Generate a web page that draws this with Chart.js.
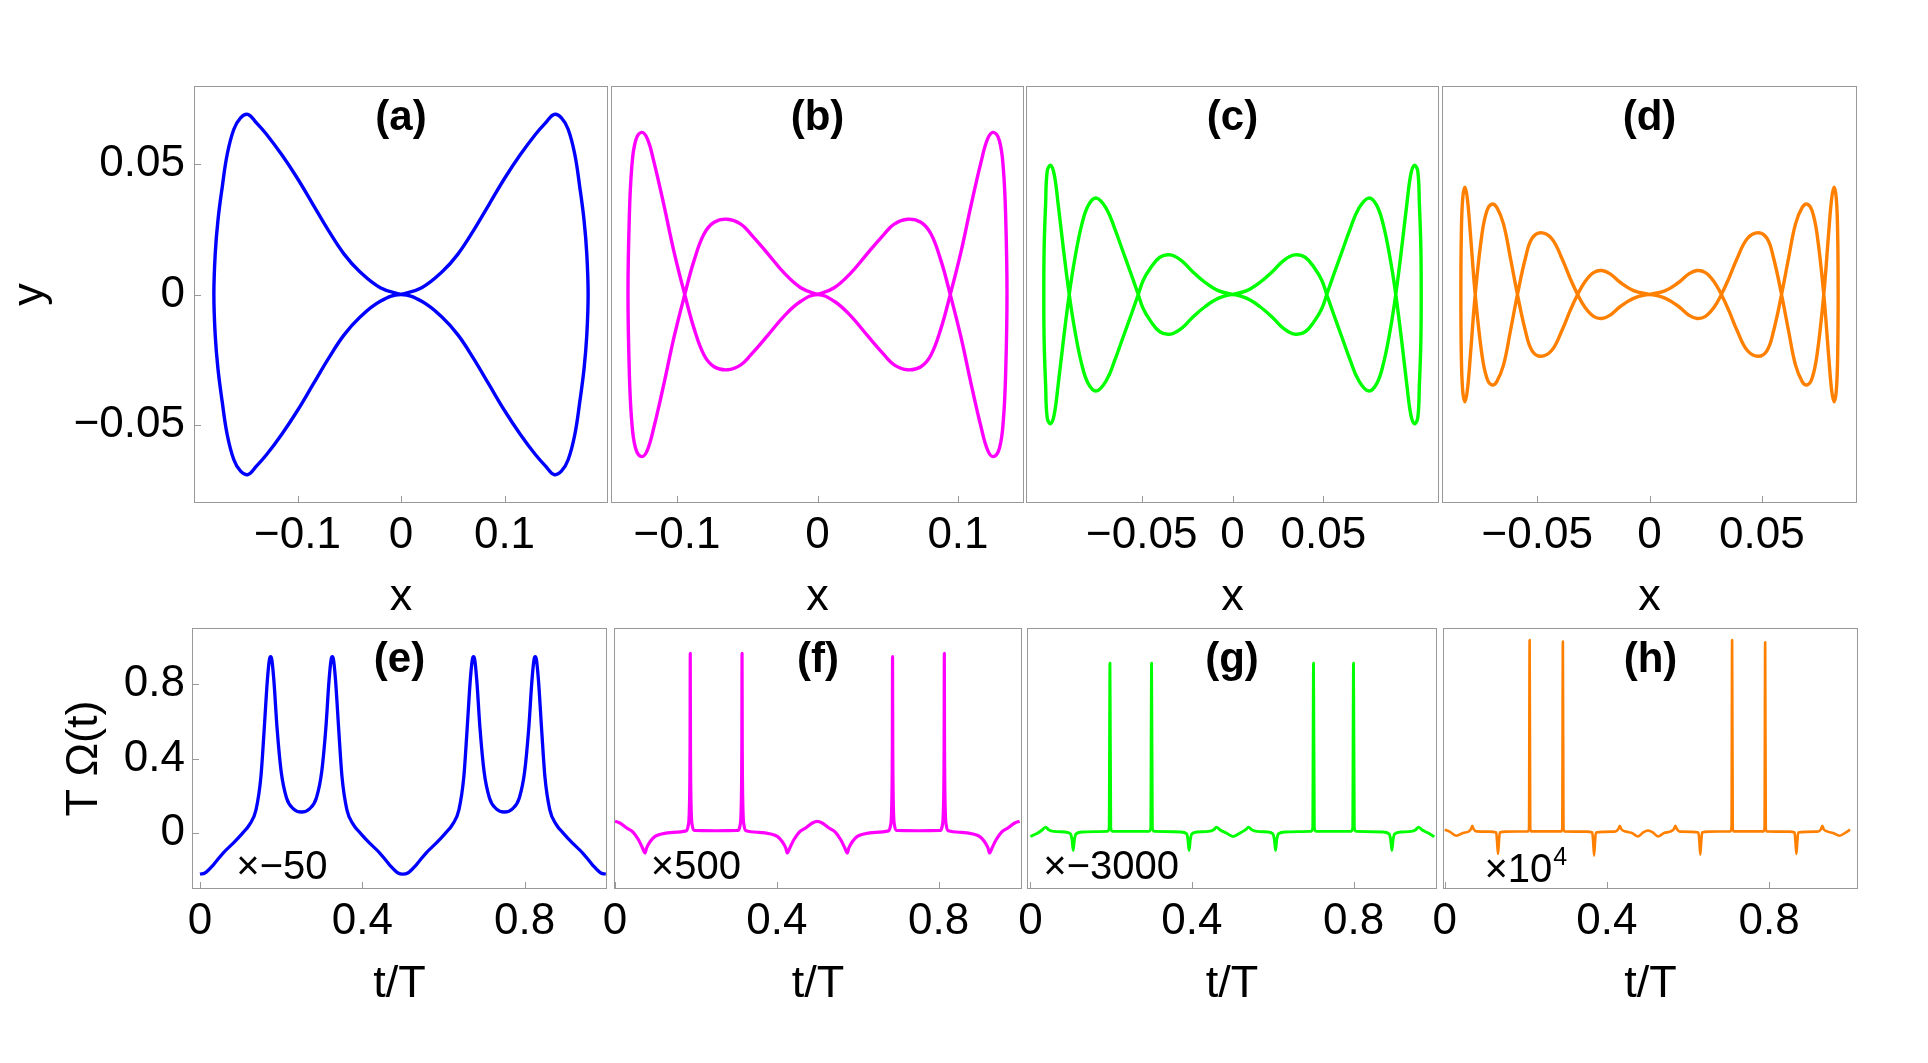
<!DOCTYPE html>
<html>
<head>
<meta charset="utf-8">
<script src="https://cdn.jsdelivr.net/npm/chart.js@4.4.1/dist/chart.umd.min.js"></script>
<style>
  body { margin: 0; background: #fff; width: 1928px; height: 1063px; overflow: hidden; }
  canvas { position: absolute; }
</style>
</head>
<body>
<canvas id="pa"></canvas>
<canvas id="pb"></canvas>
<canvas id="pc"></canvas>
<canvas id="pd"></canvas>
<canvas id="pe"></canvas>
<canvas id="pf"></canvas>
<canvas id="pg"></canvas>
<canvas id="ph"></canvas>
<script>
const FONT = '"Liberation Sans", Arial, Helvetica, sans-serif';

// closed trajectories (x, y), traced along the loop
const curveA = [
  [0,0],[0.02,0.0026],[0.04,0.0088],[0.055,0.0155],[0.07,0.0245],[0.085,0.0345],[0.1,0.0445],[0.115,0.0535],[0.13,0.0615],[0.14,0.066],[0.148,0.0691],[0.155,0.0678],[0.1615,0.0634],[0.1679,0.0538],[0.1728,0.041],[0.1769,0.0283],[0.1795,0.0156],[0.1808,0],
  [0.1795,-0.0156],[0.1769,-0.0283],[0.1728,-0.041],[0.1679,-0.0538],[0.1615,-0.0634],[0.155,-0.0678],[0.148,-0.0691],[0.14,-0.066],[0.13,-0.0615],[0.115,-0.0535],[0.1,-0.0445],[0.085,-0.0345],[0.07,-0.0245],[0.055,-0.0155],[0.04,-0.0088],[0.02,-0.0026],[0,0],
  [-0.02,-0.0026],[-0.04,-0.0088],[-0.055,-0.0155],[-0.07,-0.0245],[-0.085,-0.0345],[-0.1,-0.0445],[-0.115,-0.0535],[-0.13,-0.0615],[-0.14,-0.066],[-0.148,-0.0691],[-0.155,-0.0678],[-0.1615,-0.0634],[-0.1679,-0.0538],[-0.1728,-0.041],[-0.1769,-0.0283],[-0.1795,-0.0156],[-0.1808,0],
  [-0.1795,0.0156],[-0.1769,0.0283],[-0.1728,0.041],[-0.1679,0.0538],[-0.1615,0.0634],[-0.155,0.0678],[-0.148,0.0691],[-0.14,0.066],[-0.13,0.0615],[-0.115,0.0535],[-0.1,0.0445],[-0.085,0.0345],[-0.07,0.0245],[-0.055,0.0155],[-0.04,0.0088],[-0.02,0.0026],[0,0]
];

const curveB = [
  [0,0],[0.0119,0.0026],[0.0238,0.0083],[0.0356,0.0158],[0.0475,0.0232],[0.0546,0.027],[0.0641,0.0289],[0.0736,0.0277],[0.0808,0.0232],[0.0879,0.013],[0.0945,0],[0.1021,-0.0163],[0.1093,-0.0342],[0.1164,-0.0508],[0.1211,-0.0597],[0.1252,-0.0622],[0.1295,-0.059],[0.1323,-0.0482],[0.134,-0.029],[0.1349,0],
  [0.134,0.029],[0.1323,0.0482],[0.1295,0.059],[0.1252,0.0622],[0.1211,0.0597],[0.1164,0.0508],[0.1093,0.0342],[0.1021,0.0163],[0.0945,0],[0.0879,-0.013],[0.0808,-0.0232],[0.0736,-0.0277],[0.0641,-0.0289],[0.0546,-0.027],[0.0475,-0.0232],[0.0356,-0.0158],[0.0238,-0.0083],[0.0119,-0.0026],[0,0],
  [-0.0119,-0.0026],[-0.0238,-0.0083],[-0.0356,-0.0158],[-0.0475,-0.0232],[-0.0546,-0.027],[-0.0641,-0.0289],[-0.0736,-0.0277],[-0.0808,-0.0232],[-0.0879,-0.013],[-0.0945,0],[-0.1021,0.0163],[-0.1093,0.0342],[-0.1164,0.0508],[-0.1211,0.0597],[-0.1252,0.0622],[-0.1295,0.059],[-0.1323,0.0482],[-0.134,0.029],[-0.1349,0],
  [-0.134,-0.029],[-0.1323,-0.0482],[-0.1295,-0.059],[-0.1252,-0.0622],[-0.1211,-0.0597],[-0.1164,-0.0508],[-0.1093,-0.0342],[-0.1021,-0.0163],[-0.0945,0],[-0.0879,0.013],[-0.0808,0.0232],[-0.0736,0.0277],[-0.0641,0.0289],[-0.0546,0.027],[-0.0475,0.0232],[-0.0356,0.0158],[-0.0238,0.0083],[-0.0119,0.0026],[0,0]
];

const curveC = [
  [0,0],[0.0079,0.0015],[0.0152,0.0047],[0.0226,0.0092],[0.0281,0.013],[0.0341,0.0152],[0.04,0.0143],[0.0455,0.0098],[0.0492,0.0054],[0.0519,0],[0.0556,-0.0074],[0.0602,-0.0163],[0.0648,-0.0252],[0.0694,-0.0329],[0.0749,-0.037],[0.0794,-0.0342],[0.0831,-0.0265],[0.0868,-0.0138],[0.0899,0],[0.0932,0.0181],[0.096,0.0347],[0.0982,0.0462],[0.1002,0.0496],[0.102,0.0474],[0.1029,0.0347],[0.1037,0.0181],[0.1039,0],
  [0.1037,-0.0181],[0.1029,-0.0347],[0.102,-0.0474],[0.1002,-0.0496],[0.0982,-0.0462],[0.096,-0.0347],[0.0932,-0.0181],[0.0899,0],[0.0868,0.0138],[0.0831,0.0265],[0.0794,0.0342],[0.0749,0.037],[0.0694,0.0329],[0.0648,0.0252],[0.0602,0.0163],[0.0556,0.0074],[0.0519,0],[0.0492,-0.0054],[0.0455,-0.0098],[0.04,-0.0143],[0.0341,-0.0152],[0.0281,-0.013],[0.0226,-0.0092],[0.0152,-0.0047],[0.0079,-0.0015],[0,0],
  [-0.0079,-0.0015],[-0.0152,-0.0047],[-0.0226,-0.0092],[-0.0281,-0.013],[-0.0341,-0.0152],[-0.04,-0.0143],[-0.0455,-0.0098],[-0.0492,-0.0054],[-0.0519,0],[-0.0556,0.0074],[-0.0602,0.0163],[-0.0648,0.0252],[-0.0694,0.0329],[-0.0749,0.037],[-0.0794,0.0342],[-0.0831,0.0265],[-0.0868,0.0138],[-0.0899,0],[-0.0932,-0.0181],[-0.096,-0.0347],[-0.0982,-0.0462],[-0.1002,-0.0496],[-0.102,-0.0474],[-0.1029,-0.0347],[-0.1037,-0.0181],[-0.1039,0],
  [-0.1037,0.0181],[-0.1029,0.0347],[-0.102,0.0474],[-0.1002,0.0496],[-0.0982,0.0462],[-0.096,0.0347],[-0.0932,0.0181],[-0.0899,0],[-0.0868,-0.0138],[-0.0831,-0.0265],[-0.0794,-0.0342],[-0.0749,-0.037],[-0.0694,-0.0329],[-0.0648,-0.0252],[-0.0602,-0.0163],[-0.0556,-0.0074],[-0.0519,0],[-0.0492,0.0054],[-0.0455,0.0098],[-0.04,0.0143],[-0.0341,0.0152],[-0.0281,0.013],[-0.0226,0.0092],[-0.0152,0.0047],[-0.0079,0.0015],[0,0]
];

const curveD = [
  [0,0],[0.0071,0.0015],[0.0131,0.0047],[0.0175,0.0079],[0.0212,0.0092],[0.0249,0.0084],[0.0286,0.0051],[0.032,0],[0.0353,-0.0061],[0.039,-0.0138],[0.0435,-0.0214],[0.0484,-0.0237],[0.0524,-0.0214],[0.0553,-0.0138],[0.0588,0],[0.062,0.0143],[0.065,0.027],[0.068,0.0334],[0.0702,0.0347],[0.0724,0.0321],[0.0746,0.0232],[0.0776,0],[0.0797,-0.0227],[0.0811,-0.0367],[0.0822,-0.0412],[0.0832,-0.0367],[0.0838,-0.0227],[0.084,0],
  [0.0838,0.0227],[0.0832,0.0367],[0.0822,0.0412],[0.0811,0.0367],[0.0797,0.0227],[0.0776,0],[0.0746,-0.0232],[0.0724,-0.0321],[0.0702,-0.0347],[0.068,-0.0334],[0.065,-0.027],[0.062,-0.0143],[0.0588,0],[0.0553,0.0138],[0.0524,0.0214],[0.0484,0.0237],[0.0435,0.0214],[0.039,0.0138],[0.0353,0.0061],[0.032,0],[0.0286,-0.0051],[0.0249,-0.0084],[0.0212,-0.0092],[0.0175,-0.0079],[0.0131,-0.0047],[0.0071,-0.0015],[0,0],
  [-0.0071,-0.0015],[-0.0131,-0.0047],[-0.0175,-0.0079],[-0.0212,-0.0092],[-0.0249,-0.0084],[-0.0286,-0.0051],[-0.032,0],[-0.0353,0.0061],[-0.039,0.0138],[-0.0435,0.0214],[-0.0484,0.0237],[-0.0524,0.0214],[-0.0553,0.0138],[-0.0588,0],[-0.062,-0.0143],[-0.065,-0.027],[-0.068,-0.0334],[-0.0702,-0.0347],[-0.0724,-0.0321],[-0.0746,-0.0232],[-0.0776,0],[-0.0797,0.0227],[-0.0811,0.0367],[-0.0822,0.0412],[-0.0832,0.0367],[-0.0838,0.0227],[-0.084,0],
  [-0.0838,-0.0227],[-0.0832,-0.0367],[-0.0822,-0.0412],[-0.0811,-0.0367],[-0.0797,-0.0227],[-0.0776,0],[-0.0746,0.0232],[-0.0724,0.0321],[-0.0702,0.0347],[-0.068,0.0334],[-0.065,0.027],[-0.062,0.0143],[-0.0588,0],[-0.0553,-0.0138],[-0.0524,-0.0214],[-0.0484,-0.0237],[-0.0435,-0.0214],[-0.039,-0.0138],[-0.0353,-0.0061],[-0.032,0],[-0.0286,0.0051],[-0.0249,0.0084],[-0.0212,0.0092],[-0.0175,0.0079],[-0.0131,0.0047],[-0.0071,0.0015],[0,0]
];

// T·Omega(t) against t/T
const omegaE = [
  [0,-0.22],[0.012,-0.214],[0.033,-0.17],[0.057,-0.107],[0.082,-0.054],[0.105,0],[0.122,0.045],[0.138,0.125],[0.15,0.3],[0.158,0.55],[0.166,0.82],[0.171,0.93],[0.174,0.946],[0.177,0.93],[0.182,0.82],[0.19,0.56],[0.2,0.33],[0.213,0.19],[0.23,0.13],[0.25,0.113],[0.27,0.13],[0.287,0.19],[0.3,0.33],[0.31,0.56],[0.318,0.82],[0.323,0.93],[0.326,0.946],[0.329,0.93],[0.334,0.82],[0.342,0.55],[0.35,0.3],[0.362,0.125],[0.378,0.045],[0.395,0],[0.418,-0.054],[0.443,-0.107],[0.467,-0.17],[0.488,-0.214],[0.5,-0.22],
  [0.512,-0.214],[0.533,-0.17],[0.557,-0.107],[0.582,-0.054],[0.605,0],[0.622,0.045],[0.638,0.125],[0.65,0.3],[0.658,0.55],[0.666,0.82],[0.671,0.93],[0.674,0.946],[0.677,0.93],[0.682,0.82],[0.69,0.56],[0.7,0.33],[0.713,0.19],[0.73,0.13],[0.75,0.113],[0.77,0.13],[0.787,0.19],[0.8,0.33],[0.81,0.56],[0.818,0.82],[0.823,0.93],[0.826,0.946],[0.829,0.93],[0.834,0.82],[0.842,0.55],[0.85,0.3],[0.862,0.125],[0.878,0.045],[0.895,0],[0.918,-0.054],[0.943,-0.107],[0.967,-0.17],[0.988,-0.214],[1,-0.22]
];

const omegaF = [
  [0,0.063],[0.012,0.054],[0.029,0.027],[0.045,0.004],[0.058,-0.036],[0.068,-0.08],[0.074,-0.107],[0.078,-0.08],[0.087,-0.045],[0.099,-0.018],[0.115,-0.005],[0.144,0.004],[0.176,0.012],[0.181,0.04],[0.184,0.15],[0.1855,0.5],[0.186,0.964],[0.1865,0.5],[0.188,0.15],[0.191,0.04],[0.196,0.014],[0.25,0.0125],[0.304,0.014],[0.309,0.04],[0.312,0.15],[0.3135,0.5],[0.314,0.964],[0.3145,0.5],[0.316,0.15],[0.319,0.04],[0.324,0.012],[0.356,0.004],[0.385,-0.005],[0.401,-0.018],[0.413,-0.045],[0.422,-0.08],[0.426,-0.107],[0.432,-0.08],[0.442,-0.036],[0.455,0.004],[0.471,0.027],[0.488,0.054],[0.5,0.063],
  [0.512,0.054],[0.529,0.027],[0.545,0.004],[0.558,-0.036],[0.568,-0.08],[0.574,-0.107],[0.578,-0.08],[0.587,-0.045],[0.599,-0.018],[0.615,-0.005],[0.644,0.004],[0.676,0.012],[0.681,0.04],[0.684,0.15],[0.6855,0.5],[0.686,0.946],[0.6865,0.5],[0.688,0.15],[0.691,0.04],[0.696,0.014],[0.75,0.0125],[0.804,0.014],[0.809,0.04],[0.812,0.15],[0.8135,0.5],[0.814,0.964],[0.8145,0.5],[0.816,0.15],[0.819,0.04],[0.824,0.012],[0.856,0.004],[0.885,-0.005],[0.901,-0.018],[0.913,-0.045],[0.922,-0.08],[0.926,-0.107],[0.932,-0.08],[0.942,-0.036],[0.955,0.004],[0.971,0.027],[0.988,0.054],[1,0.063]
];

const omegaG = [
  [0,-0.018],[0.015,-0.004],[0.03,0.018],[0.038,0.032],[0.045,0.018],[0.058,0.009],[0.085,0.006],[0.099,-0.004],[0.103,-0.035],[0.106,-0.093],[0.109,-0.035],[0.113,-0.004],[0.128,0.006],[0.19,0.009],[0.195,0.025],[0.197,0.911],[0.199,0.025],[0.204,0.009],[0.293,0.009],[0.298,0.025],[0.3,0.911],[0.302,0.025],[0.307,0.009],[0.372,0.006],[0.387,-0.004],[0.39,-0.035],[0.393,-0.093],[0.396,-0.035],[0.4,-0.004],[0.414,0.006],[0.441,0.009],[0.454,0.018],[0.461,0.032],[0.469,0.018],[0.485,0],[0.502,-0.018],
  [0.519,0],[0.533,0.018],[0.54,0.032],[0.548,0.018],[0.561,0.009],[0.588,0.006],[0.6,-0.004],[0.604,-0.035],[0.607,-0.093],[0.61,-0.035],[0.614,-0.004],[0.63,0.006],[0.694,0.009],[0.699,0.025],[0.701,0.911],[0.703,0.025],[0.708,0.009],[0.793,0.009],[0.798,0.025],[0.8,0.911],[0.802,0.025],[0.807,0.009],[0.872,0.006],[0.888,-0.004],[0.892,-0.035],[0.895,-0.093],[0.898,-0.035],[0.902,-0.004],[0.918,0.006],[0.943,0.009],[0.954,0.018],[0.961,0.032],[0.969,0.018],[0.985,0],[1,-0.02]
];

const omegaH = [
  [0,0.018],[0.012,0.008],[0.029,-0.014],[0.045,0],[0.06,0.01],[0.065,0.022],[0.068,0.039],[0.071,0.022],[0.078,0.009],[0.11,0.008],[0.127,0.003],[0.129,-0.04],[0.1315,-0.1125],[0.134,-0.04],[0.136,0.003],[0.15,0.008],[0.206,0.009],[0.208,0.03],[0.2095,1.036],[0.211,0.03],[0.213,0.009],[0.288,0.009],[0.29,0.03],[0.2915,1.027],[0.293,0.03],[0.295,0.009],[0.35,0.008],[0.364,0.003],[0.366,-0.04],[0.3685,-0.121],[0.371,-0.04],[0.373,0.003],[0.42,0.008],[0.428,0.02],[0.432,0.039],[0.436,0.02],[0.447,0.008],[0.462,0],[0.477,-0.018],[0.49,0.004],[0.5015,0.014],
  [0.513,0.004],[0.526,-0.018],[0.541,0],[0.556,0.008],[0.565,0.02],[0.569,0.039],[0.573,0.02],[0.58,0.008],[0.626,0.003],[0.628,-0.04],[0.6305,-0.116],[0.633,-0.04],[0.635,0.003],[0.65,0.008],[0.705,0.009],[0.7075,0.03],[0.709,1.036],[0.7105,0.03],[0.7125,0.009],[0.787,0.009],[0.789,0.03],[0.7905,1.023],[0.792,0.03],[0.794,0.009],[0.85,0.008],[0.863,0.003],[0.865,-0.04],[0.8675,-0.1125],[0.87,-0.04],[0.872,0.003],[0.92,0.008],[0.928,0.02],[0.9315,0.039],[0.935,0.02],[0.945,0.008],[0.958,0],[0.974,-0.014],[0.99,0.004],[1,0.018]
];

const wideXTicks = [-0.1, 0, 0.1];
const wideXLabels = ["\u22120.1", "0", "0.1"];
const narrowXTicks = [-0.05, 0, 0.05];
const narrowXLabels = ["\u22120.05", "0", "0.05"];
const topYTicks = [-0.05, 0, 0.05];
const topYLabels = ["\u22120.05", "0", "0.05"];
const timeTicks = [0, 0.4, 0.8];
const timeLabels = ["0", "0.4", "0.8"];
const omegaTicks = [0, 0.4, 0.8];
const omegaLabels = ["0", "0.4", "0.8"];
const panelLabels = ["(a)", "(b)", "(c)", "(d)", "(e)", "(f)", "(g)", "(h)"];
const scaleNotes = ["\u00d7\u221250", "\u00d7500", "\u00d7\u22123000", "\u00d710"];

const panelText = {
  id: "panelText",
  afterDraw(chart, args, opts) {
    const { ctx, chartArea: a } = chart;
    const xs = chart.scales.x, ys = chart.scales.y;
    ctx.save();
    ctx.strokeStyle = "#999";
    ctx.lineWidth = 1;
    ctx.strokeRect(a.left + 0.5, a.top + 0.5, a.width - 1, a.height - 1);
    ctx.beginPath();
    xs.ticks.forEach((t) => {
      const px = Math.round(xs.getPixelForValue(t.value)) + 0.5;
      ctx.moveTo(px, a.bottom);
      ctx.lineTo(px, a.bottom - 7);
    });
    if (ys.options.display) {
      ys.ticks.forEach((t) => {
        const py = Math.round(ys.getPixelForValue(t.value)) + 0.5;
        ctx.moveTo(a.left, py);
        ctx.lineTo(a.left + 7, py);
      });
    }
    ctx.stroke();

    ctx.fillStyle = "#000";
    ctx.textBaseline = "alphabetic";
    ctx.textAlign = "center";
    ctx.font = `bold 42px ${FONT}`;
    ctx.fillText(opts.label, (a.left + a.right) / 2, a.top + 44);

    if (opts.note) {
      const nx = xs.getPixelForValue(opts.noteAt[0]);
      const ny = ys.getPixelForValue(opts.noteAt[1]);
      ctx.textAlign = "left";
      ctx.font = `40px ${FONT}`;
      const w1 = ctx.measureText(opts.note).width;
      let w2 = 0;
      if (opts.sup) {
        ctx.font = `25px ${FONT}`;
        w2 = ctx.measureText(opts.sup).width + 1;
      }
      const left = nx - (w1 + w2) / 2;
      ctx.font = `40px ${FONT}`;
      ctx.fillText(opts.note, left, ny);
      if (opts.sup) {
        ctx.font = `25px ${FONT}`;
        ctx.fillText(opts.sup, left + w1 + 1, ny - 17);
      }
    }
    ctx.restore();
  },
};

const panels = [
  { id: "pa", points: curveA, color: "#0000ff", lw: 3.4, left: 0, top: 84, w: 610, h: 541, pl: 0, yw: 194, xh: 122, x: [-0.2, 0.2], y: [-0.08, 0.08], xTicks: wideXTicks, xLabels: wideXLabels, xTitle: "x", yTicks: topYTicks, yLabels: topYLabels, yTitle: "y", yTitlePad: 4, yTickPad: 9, label: panelLabels[0] },
  { id: "pb", points: curveB, color: "#ff00ff", lw: 3.4, left: 581, top: 84, w: 445, h: 541, pl: 30, xh: 122, x: [-0.147, 0.147], y: [-0.08, 0.08], xTicks: wideXTicks, xLabels: wideXLabels, xTitle: "x", label: panelLabels[1] },
  { id: "pc", points: curveC, color: "#00ff00", lw: 3.4, left: 996, top: 84, w: 445, h: 541, pl: 30, xh: 122, x: [-0.1137, 0.1137], y: [-0.08, 0.08], xTicks: narrowXTicks, xLabels: narrowXLabels, xTitle: "x", label: panelLabels[2] },
  { id: "pd", points: curveD, color: "#ff8000", lw: 3.4, left: 1412, top: 84, w: 447, h: 541, pl: 30, xh: 122, x: [-0.0924, 0.0924], y: [-0.08, 0.08], xTicks: narrowXTicks, xLabels: narrowXLabels, xTitle: "x", label: panelLabels[3] },
  { id: "pe", points: omegaE, color: "#0000ff", lw: 3.3, mono: true, left: 0, top: 626, w: 609, h: 386, pl: 0, yw: 192, xh: 123, x: [-0.0197, 1.0029], y: [-0.3, 1.1], xTicks: timeTicks, xLabels: timeLabels, xTitle: "t/T", yTicks: omegaTicks, yLabels: omegaLabels, yTitle: "T \u03a9(t)", yTitlePad: 58, yTickPad: 7, label: panelLabels[4], note: scaleNotes[0], noteAt: [0.202, -0.245] },
  { id: "pf", points: omegaF, color: "#ff00ff", lw: 3.2, mono: true, left: 584, top: 626, w: 440, h: 386, pl: 30, xh: 123, x: [-0.0025, 1.006], y: [-0.3, 1.1], xTicks: timeTicks, xLabels: timeLabels, xTitle: "t/T", label: panelLabels[5], note: scaleNotes[1], noteAt: [0.2, -0.245] },
  { id: "pg", points: omegaG, color: "#00ff00", lw: 2.9, mono: true, left: 997, top: 626, w: 442, h: 386, pl: 30, xh: 123, x: [-0.0084, 1.0067], y: [-0.3, 1.1], xTicks: timeTicks, xLabels: timeLabels, xTitle: "t/T", label: panelLabels[6], note: scaleNotes[2], noteAt: [0.2, -0.245] },
  { id: "ph", points: omegaH, color: "#ff8000", lw: 2.6, mono: true, left: 1413, top: 626, w: 447, h: 386, pl: 30, xh: 123, x: [-0.0042, 1.0195], y: [-0.3, 1.1], xTicks: timeTicks, xLabels: timeLabels, xTitle: "t/T", label: panelLabels[7], note: scaleNotes[3], sup: "4", noteAt: [0.2, -0.26] },
];

function buildPanel(p) {
  const canvas = document.getElementById(p.id);
  canvas.width = p.w;
  canvas.height = p.h;
  canvas.style.left = p.left + "px";
  canvas.style.top = p.top + "px";

  const hasY = Boolean(p.yTicks);
  const yScale = hasY ? {
    type: "linear", min: p.y[0], max: p.y[1],
    afterBuildTicks: (s) => { s.ticks = p.yTicks.map((v) => ({ value: v })); },
    afterFit: (s) => { s.width = p.yw; s.paddingTop = 0; s.paddingBottom = 0; },
    grid: { display: false, drawTicks: false },
    border: { display: false },
    ticks: { padding: p.yTickPad, color: "#000", font: { family: FONT, size: 44 }, callback: (v, i) => p.yLabels[i] },
    title: { display: true, text: p.yTitle, color: "#000", font: { family: FONT, size: 45 }, padding: { top: p.yTitlePad, bottom: 0 } },
  } : { type: "linear", display: false, min: p.y[0], max: p.y[1] };

  return new Chart(canvas, {
    type: "scatter",
    data: {
      datasets: [{
        data: p.points.map(([x, y]) => ({ x, y })),
        showLine: true,
        borderColor: p.color,
        borderWidth: p.lw,
        pointRadius: 0,
        tension: p.mono ? 0 : 0.4,
        cubicInterpolationMode: p.mono ? "monotone" : "default",
        borderJoinStyle: "round",
      }],
    },
    options: {
      responsive: false,
      animation: false,
      devicePixelRatio: 1,
      layout: { autoPadding: false, padding: { left: p.pl, right: 2, top: 2, bottom: 0 } },
      plugins: {
        legend: { display: false },
        tooltip: { enabled: false },
        panelText: { label: p.label, note: p.note, sup: p.sup, noteAt: p.noteAt },
      },
      scales: {
        x: {
          type: "linear", min: p.x[0], max: p.x[1],
          afterBuildTicks: (s) => { s.ticks = p.xTicks.map((v) => ({ value: v })); },
          afterFit: (s) => { s.height = p.xh; s.paddingLeft = 0; s.paddingRight = 0; },
          grid: { display: false, drawTicks: false },
          border: { display: false },
          ticks: { padding: 6, maxRotation: 0, minRotation: 0, autoSkip: false, color: "#000", font: { family: FONT, size: 44 }, callback: (v, i) => p.xLabels[i] },
          title: { display: true, text: p.xTitle, color: "#000", font: { family: FONT, size: 45 }, padding: 0 },
        },
        y: yScale,
      },
    },
    plugins: [panelText],
  });
}

panels.forEach(buildPanel);
</script>
</body>
</html>
